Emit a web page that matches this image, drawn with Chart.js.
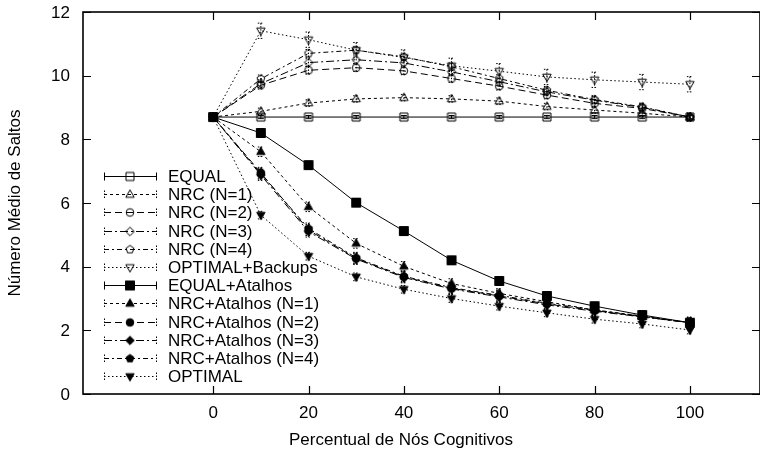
<!DOCTYPE html>
<html>
<head>
<meta charset="utf-8">
<script src="https://cdn.jsdelivr.net/npm/chart.js@4/dist/chart.umd.min.js"></script>
<style>
  html, body { margin: 0; padding: 0; background: #fff; overflow: hidden; }
  #wrap { width: 760px; height: 453px; overflow: hidden; }
</style>
</head>
<body>
<div id="wrap"><canvas id="myChart" width="766" height="453"></canvas></div>
<script>
// percent of cognitive nodes
var xValues = [0, 10, 20, 30, 40, 50, 60, 70, 80, 90, 100];
var xTicks = [0, 20, 40, 60, 80, 100];
var yTicks = [0, 2, 4, 6, 8, 10, 12];

var seriesNames = ['EQUAL', 'NRC (N=1)', 'NRC (N=2)', 'NRC (N=3)', 'NRC (N=4)', 'OPTIMAL+Backups',
    'EQUAL+Atalhos', 'NRC+Atalhos (N=1)', 'NRC+Atalhos (N=2)', 'NRC+Atalhos (N=3)', 'NRC+Atalhos (N=4)', 'OPTIMAL'];

var equalValues = [8.7, 8.7, 8.7, 8.7, 8.7, 8.7, 8.7, 8.7, 8.7, 8.7, 8.7];
var nrc1Values = [8.7, 8.88, 9.14, 9.27, 9.31, 9.27, 9.2, 9.03, 8.92, 8.82, 8.7];
var nrc2Values = [8.7, 9.7, 10.17, 10.25, 10.15, 9.91, 9.67, 9.39, 9.13, 8.97, 8.7];
var nrc3Values = [8.7, 9.75, 10.41, 10.5, 10.4, 10.12, 9.81, 9.49, 9.23, 9.0, 8.7];
var nrc4Values = [8.7, 9.9, 10.7, 10.8, 10.59, 10.28, 9.91, 9.54, 9.25, 9.02, 8.7];
var optBackupValues = [8.7, 11.41, 11.13, 10.8, 10.57, 10.31, 10.14, 9.96, 9.87, 9.8, 9.73];
var equalAtalhosValues = [8.7, 8.2, 7.19, 6.01, 5.12, 4.2, 3.55, 3.08, 2.76, 2.48, 2.24];
var nrcA1Values = [8.7, 7.61, 5.88, 4.73, 4.01, 3.47, 3.16, 2.9, 2.64, 2.45, 2.24];
var nrcA2Values = [8.7, 6.95, 5.15, 4.26, 3.68, 3.32, 3.08, 2.83, 2.62, 2.43, 2.24];
var nrcA3Values = [8.7, 6.88, 5.1, 4.24, 3.66, 3.3, 3.05, 2.8, 2.6, 2.42, 2.24];
var nrcA4Values = [8.7, 6.92, 5.2, 4.28, 3.7, 3.34, 3.1, 2.85, 2.64, 2.44, 2.24];
var optimalValues = [8.7, 5.62, 4.33, 3.68, 3.29, 3.0, 2.76, 2.55, 2.35, 2.2, 2.01];

// half height of the error bars for each series
var errValues = [0.05, 0.1, 0.12, 0.12, 0.12, 0.24, 0.1, 0.15, 0.17, 0.17, 0.17, 0.12];

var allValues = [equalValues, nrc1Values, nrc2Values, nrc3Values, nrc4Values, optBackupValues,
    equalAtalhosValues, nrcA1Values, nrcA2Values, nrcA3Values, nrcA4Values, optimalValues];

var dashes = [[], [3, 3], [7, 4], [8, 3, 2, 3], [5, 3, 2, 3], [1.5, 2.5]];
var shapes = ['square', 'up', 'circle', 'diamond', 'pentagon', 'down'];
var FONT = '"Liberation Sans", Arial, Helvetica, sans-serif';

function makeMarker(shape, filled) {
    var c = document.createElement('canvas');
    c.width = 14; c.height = 14;
    var g = c.getContext('2d');
    var cx = 7, cy = 7;
    g.beginPath();
    if (shape === 'square') {
        var h = filled ? 4.5 : 4;
        g.rect(cx - h, cy - h, 2 * h, 2 * h);
    } else if (shape === 'up') {
        g.moveTo(cx, cy - 4.6); g.lineTo(cx + 4.2, cy + 2.8); g.lineTo(cx - 4.2, cy + 2.8); g.closePath();
    } else if (shape === 'down') {
        g.moveTo(cx, cy + 4.6); g.lineTo(cx + 4.2, cy - 2.8); g.lineTo(cx - 4.2, cy - 2.8); g.closePath();
    } else if (shape === 'circle') {
        g.arc(cx, cy, 3.8, 0, Math.PI * 2);
    } else if (shape === 'diamond') {
        g.moveTo(cx, cy - 4.3); g.lineTo(cx + 4.3, cy); g.lineTo(cx, cy + 4.3); g.lineTo(cx - 4.3, cy); g.closePath();
    } else if (shape === 'pentagon') {
        for (var k = 0; k < 5; k++) {
            var a = -Math.PI / 2 + k * 2 * Math.PI / 5;
            var px = cx + 4.1 * Math.cos(a), py = cy + 4.1 * Math.sin(a);
            if (k === 0) g.moveTo(px, py); else g.lineTo(px, py);
        }
        g.closePath();
    }
    g.lineWidth = 1;
    g.strokeStyle = '#000';
    if (filled) { g.fillStyle = '#000'; g.fill(); }
    g.stroke();
    return c;
}

var datasets = allValues.map(function (vals, i) {
    var k = i % 6;
    return {
        label: seriesNames[i],
        data: vals.map(function (v, j) { return { x: xValues[j], y: v }; }),
        borderColor: '#000',
        borderWidth: 1,
        borderDash: dashes[k],
        pointStyle: makeMarker(shapes[k], i >= 6),
        pointRadius: 5,
        errHalf: errValues[i],
        fill: false,
        tension: 0,
        order: 11 - i
    };
});

function noPadding(scale) {
    scale.paddingTop = 0; scale.paddingBottom = 0;
    scale.paddingLeft = 0; scale.paddingRight = 0;
}

var framePlugin = {
    id: 'frame',
    beforeDatasetsDraw: function (chart) {
        var ctx = chart.ctx, ys = chart.scales.y;
        ctx.save();
        ctx.strokeStyle = '#000';
        ctx.lineWidth = 1;
        chart.data.datasets.forEach(function (ds, i) {
            var meta = chart.getDatasetMeta(i);
            ctx.setLineDash(dashes[i % 6].length ? [1.5, 1.5] : []);
            meta.data.forEach(function (pt, j) {
                if (j === 0) return;
                var v = ds.data[j].y;
                var y1 = ys.getPixelForValue(v + ds.errHalf), y2 = ys.getPixelForValue(v - ds.errHalf);
                ctx.beginPath();
                ctx.moveTo(pt.x, y1); ctx.lineTo(pt.x, y2);
                ctx.moveTo(pt.x - 3, y1); ctx.lineTo(pt.x + 3, y1);
                ctx.moveTo(pt.x - 3, y2); ctx.lineTo(pt.x + 3, y2);
                ctx.stroke();
            });
        });
        ctx.restore();
    },
    afterDraw: function (chart) {
        var ctx = chart.ctx, a = chart.chartArea;
        var xs = chart.scales.x, ys = chart.scales.y;
        ctx.save();
        ctx.strokeStyle = '#000';
        ctx.lineWidth = 1.6;
        ctx.strokeRect(a.left, a.top, a.right - a.left, a.bottom - a.top);
        ctx.lineWidth = 1.2;
        ctx.beginPath();
        xTicks.forEach(function (t) {
            var px = Math.round(xs.getPixelForValue(t)) + 0.5;
            ctx.moveTo(px, a.bottom); ctx.lineTo(px, a.bottom - 8);
            ctx.moveTo(px, a.top); ctx.lineTo(px, a.top + 8);
        });
        yTicks.forEach(function (t) {
            var py = Math.round(ys.getPixelForValue(t)) + 0.5;
            ctx.moveTo(a.left, py); ctx.lineTo(a.left + 8, py);
            ctx.moveTo(a.right, py); ctx.lineTo(a.right - 8, py);
        });
        ctx.stroke();

        ctx.fillStyle = '#000';
        ctx.font = '17px ' + FONT;
        ctx.textBaseline = 'middle';

        // tick labels
        ctx.textAlign = 'center';
        xTicks.forEach(function (t) {
            ctx.fillText(String(t), xs.getPixelForValue(t), a.bottom + 19);
        });
        ctx.textAlign = 'right';
        yTicks.forEach(function (t) {
            ctx.fillText(String(t), a.left - 13, ys.getPixelForValue(t) + 1);
        });

        // axis titles
        ctx.textAlign = 'center';
        ctx.fillText('Percentual de Nós Cognitivos', 401, 440);
        ctx.save();
        ctx.translate(15, (a.top + a.bottom) / 2);
        ctx.rotate(-Math.PI / 2);
        ctx.fillText('Número Médio de Saltos', 0, 0);
        ctx.restore();

        // key
        ctx.textAlign = 'left';
        chart.data.datasets.forEach(function (ds, i) {
            var y = Math.round(176 + i * 18.2) + 0.5;
            ctx.lineWidth = 1;
            ctx.setLineDash(dashes[i % 6]);
            ctx.beginPath();
            ctx.moveTo(104, y); ctx.lineTo(157, y);
            ctx.stroke();
            ctx.setLineDash(dashes[i % 6].length ? [1.5, 1.5] : []);
            ctx.beginPath();
            ctx.moveTo(104.5, y - 4); ctx.lineTo(104.5, y + 4);
            ctx.moveTo(156.5, y - 4); ctx.lineTo(156.5, y + 4);
            ctx.stroke();
            ctx.setLineDash([]);
            var m = ds.pointStyle;
            ctx.drawImage(m, 130 - m.width / 2, y - m.height / 2);
            ctx.fillText(ds.label, 168, y + 1);
        });
        ctx.restore();
    }
};

new Chart("myChart", {
    type: "line",
    data: { datasets: datasets },
    options: {
        responsive: false,
        animation: false,
        layout: { padding: { left: 0, top: 12, right: 4, bottom: 0 } },
        plugins: { legend: { display: false }, tooltip: { enabled: false } },
        scales: {
            x: {
                type: 'linear',
                min: -27.3,
                max: 114.7,
                afterBuildTicks: function (scale) { scale.ticks = xTicks.map(function (v) { return { value: v }; }); },
                afterFit: function (scale) { scale.height = 59; noPadding(scale); },
                grid: { display: false },
                border: { display: false },
                ticks: { display: false }
            },
            y: {
                min: 0,
                max: 12,
                afterBuildTicks: function (scale) { scale.ticks = yTicks.map(function (v) { return { value: v }; }); },
                afterFit: function (scale) { scale.width = 83; noPadding(scale); },
                grid: { display: false },
                border: { display: false },
                ticks: { display: false }
            }
        }
    },
    plugins: [framePlugin]
});
</script>
</body>
</html>
